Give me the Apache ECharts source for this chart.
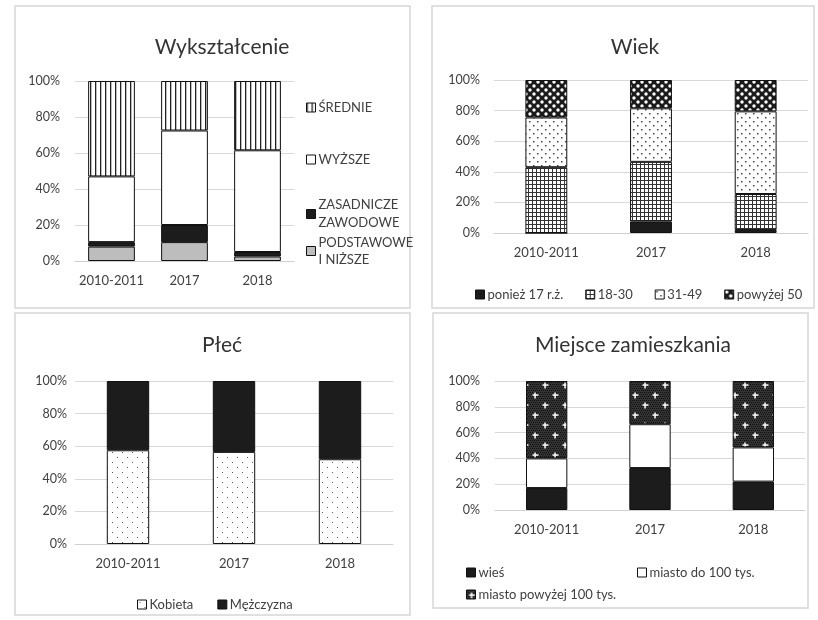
<!DOCTYPE html>
<html>
<head>
<meta charset="utf-8">
<script src="https://cdn.jsdelivr.net/npm/echarts@6/dist/echarts.min.js"></script>
<style>
  html, body { margin: 0; padding: 0; background: #fff; }
  #chart { width: 818px; height: 620px; }
</style>
</head>
<body>
<div id="chart"></div>
<script>
// kategorie osi X (wspólne dla wszystkich paneli)
const years = ['2010-2011', '2017', '2018'];
const yTicks = [0, 20, 40, 60, 80, 100];

// Wykształcenie (%)
const eduPodstawowe = [8, 10.5, 2.5];
const eduZasadnicze = [2.5, 9.5, 2.5];
const eduWyzsze = [36.5, 52.5, 56.5];
const eduSrednie = [53, 27.5, 38.5];

// Wiek (%)
const agePonizej17 = [0, 7.5, 2];
const age18_30 = [43, 39, 23.5];
const age31_49 = [32.5, 35, 54];
const agePowyzej50 = [24.5, 18.5, 20.5];

// Płeć (%)
const sexKobieta = [57.5, 56.5, 52];
const sexMezczyzna = [42.5, 43.5, 48];

// Miejsce zamieszkania (%)
const placeWies = [17, 32.5, 22];
const placeMiastoDo100 = [23, 34, 26.5];
const placeMiastoPow100 = [60, 33.5, 51.5];

const FONT = 'Lato';
const TXT = '#404040';
const BLACK = '#1c1c1c';

// wzory wypełnienia (kreskowania) jak w Excelu
function pattern(size, draw) {
  const c = document.createElement('canvas');
  c.width = size;
  c.height = size;
  const ctx = c.getContext('2d');
  draw(ctx, size);
  return { image: c, repeat: 'repeat' };
}
const patVertical = pattern(5, (ctx, s) => {
  ctx.fillStyle = '#fff'; ctx.fillRect(0, 0, s, s);
  ctx.fillStyle = '#222'; ctx.fillRect(0, 0, 1.3, s);
});
const patGrid = pattern(4, (ctx, s) => {
  ctx.fillStyle = '#fff'; ctx.fillRect(0, 0, s, s);
  ctx.fillStyle = '#333'; ctx.fillRect(0, 0, s, 1); ctx.fillRect(0, 0, 1, s);
});
const patDots = pattern(8, (ctx, s) => {
  ctx.fillStyle = '#fff'; ctx.fillRect(0, 0, s, s);
  ctx.fillStyle = '#444';
  ctx.fillRect(1, 1, 1.5, 1.5); ctx.fillRect(5, 5, 1.5, 1.5);
});
const patChecker = pattern(8, (ctx, s) => {
  ctx.fillStyle = '#1a1a1a'; ctx.fillRect(0, 0, s, s);
  ctx.fillStyle = '#fff';
  ctx.beginPath(); ctx.arc(2, 2, 1.7, 0, Math.PI * 2); ctx.fill();
  ctx.beginPath(); ctx.arc(6, 6, 1.7, 0, Math.PI * 2); ctx.fill();
});
const patSparse = pattern(10, (ctx, s) => {
  ctx.fillStyle = '#fff'; ctx.fillRect(0, 0, s, s);
  ctx.fillStyle = '#555';
  ctx.fillRect(2, 2, 1, 1); ctx.fillRect(7, 7, 1, 1);
});
const patPlus = pattern(20, (ctx, s) => {
  ctx.fillStyle = '#333'; ctx.fillRect(0, 0, s, s);
  ctx.fillStyle = '#111';
  for (let x = 0; x < s; x += 2) {
    for (let y = 0; y < s; y += 2) ctx.fillRect(x + (y % 4 ? 1 : 0), y, 1, 1);
  }
  ctx.fillStyle = '#fff';
  [[5, 5], [15, 15]].forEach(([x, y]) => {
    ctx.fillRect(x - 2.5, y - 0.7, 6, 1.5);
    ctx.fillRect(x - 0.7, y - 2.5, 1.5, 6);
  });
});

const chart = echarts.init(document.getElementById('chart'));

const grids = [
  { left: 75, width: 219, top: 81, height: 180 },
  { left: 494, width: 314, top: 80, height: 153 },
  { left: 75, width: 318, top: 381, height: 163 },
  { left: 495, width: 310, top: 381, height: 129 }
];
const yMargins = [15, 14, 8, 15];

function xAxis(i) {
  return {
    type: 'category', gridIndex: i, data: years,
    axisLine: { lineStyle: { color: '#d0d0d0' } },
    axisTick: { show: false },
    axisLabel: { color: TXT, fontFamily: FONT, fontSize: 13, margin: 13, interval: 0 }
  };
}
function yAxis(i) {
  return {
    type: 'value', gridIndex: i, min: yTicks[0], max: yTicks[yTicks.length - 1],
    interval: yTicks[1] - yTicks[0],
    axisLine: { show: false }, axisTick: { show: false },
    splitLine: { lineStyle: { color: '#d9d9d9' } },
    axisLabel: { color: TXT, fontFamily: FONT, fontSize: 12.5, margin: yMargins[i], formatter: '{value}%' }
  };
}
function bar(i, name, data, color, gap) {
  return {
    type: 'bar', name: name, data: data, stack: 's' + i,
    xAxisIndex: i, yAxisIndex: i, barCategoryGap: gap,
    itemStyle: { color: color, borderColor: '#111', borderWidth: 1 },
    emphasis: { disabled: true }
  };
}
const legendText = { color: TXT, fontFamily: FONT, fontSize: 13, padding: [0, 0, 0, -2] };
function legend(names, pos, extra) {
  return Object.assign({
    data: names, icon: 'rect', itemWidth: 9, itemHeight: 9, itemGap: 20,
    selectedMode: false,
    itemStyle: { borderColor: '#111', borderWidth: 1 },
    textStyle: legendText
  }, pos, extra || {});
}
const twoLines = n => n.replace(' ', '\n');
const titleStyle = { color: '#333', fontFamily: FONT, fontSize: 21, fontWeight: 'normal' };
const frame = { fill: 'none', stroke: '#d6d6d6', lineWidth: 1.5 };

chart.setOption({
  animation: false,
  backgroundColor: '#fff',
  graphic: [
    { type: 'rect', shape: { x: 15, y: 6, width: 395, height: 302 }, style: frame },
    { type: 'rect', shape: { x: 432, y: 6, width: 382, height: 302 }, style: frame },
    { type: 'rect', shape: { x: 15, y: 313, width: 395, height: 302 }, style: frame },
    { type: 'rect', shape: { x: 433, y: 313, width: 375, height: 295 }, style: frame }
  ],
  title: [
    { text: 'Wykształcenie', left: 217, top: 32, textAlign: 'center', textStyle: titleStyle },
    { text: 'Wiek', left: 630, top: 32, textAlign: 'center', textStyle: titleStyle },
    { text: 'Płeć', left: 217, top: 330, textAlign: 'center', textStyle: titleStyle },
    { text: 'Miejsce zamieszkania', left: 628, top: 330, textAlign: 'center', textStyle: titleStyle }
  ],
  legend: [
    legend(['ŚREDNIE'], { left: 301, top: 96 }),
    legend(['WYŻSZE'], { left: 301, top: 148 }),
    legend(['ZASADNICZE ZAWODOWE'], { left: 301, top: 191 },
      { formatter: twoLines, textStyle: Object.assign({}, legendText, { lineHeight: 18 }) }),
    legend(['PODSTAWOWE I NIŻSZE'], { left: 301, top: 229 },
      { formatter: twoLines, textStyle: Object.assign({}, legendText, { lineHeight: 17 }) }),
    legend(['ponież 17 r.ż.', '18-30', '31-49', 'powyżej 50'], { left: 470, top: 283, width: 345 }, { itemGap: 22 }),
    legend(['Kobieta', 'Mężczyzna'], { left: 132, top: 593 }, { itemGap: 24 }),
    legend(['wieś'], { left: 461, top: 561 }),
    legend(['miasto do 100 tys.'], { left: 632, top: 561 }),
    legend(['miasto powyżej 100 tys.'], { left: 461, top: 583 })
  ],
  grid: grids,
  xAxis: [xAxis(0), xAxis(1), xAxis(2), xAxis(3)],
  yAxis: [yAxis(0), yAxis(1), yAxis(2), yAxis(3)],
  series: [
    bar(0, 'PODSTAWOWE I NIŻSZE', eduPodstawowe, '#bdbdbd', '36%'),
    bar(0, 'ZASADNICZE ZAWODOWE', eduZasadnicze, BLACK, '36%'),
    bar(0, 'WYŻSZE', eduWyzsze, '#fff', '36%'),
    bar(0, 'ŚREDNIE', eduSrednie, patVertical, '36%'),

    bar(1, 'ponież 17 r.ż.', agePonizej17, BLACK, '60%'),
    bar(1, '18-30', age18_30, patGrid, '60%'),
    bar(1, '31-49', age31_49, patDots, '60%'),
    bar(1, 'powyżej 50', agePowyzej50, patChecker, '60%'),

    bar(2, 'Kobieta', sexKobieta, patSparse, '60%'),
    bar(2, 'Mężczyzna', sexMezczyzna, BLACK, '60%'),

    bar(3, 'wieś', placeWies, BLACK, '60%'),
    bar(3, 'miasto do 100 tys.', placeMiastoDo100, '#fff', '60%'),
    bar(3, 'miasto powyżej 100 tys.', placeMiastoPow100, patPlus, '60%')
  ]
});
</script>
</body>
</html>
